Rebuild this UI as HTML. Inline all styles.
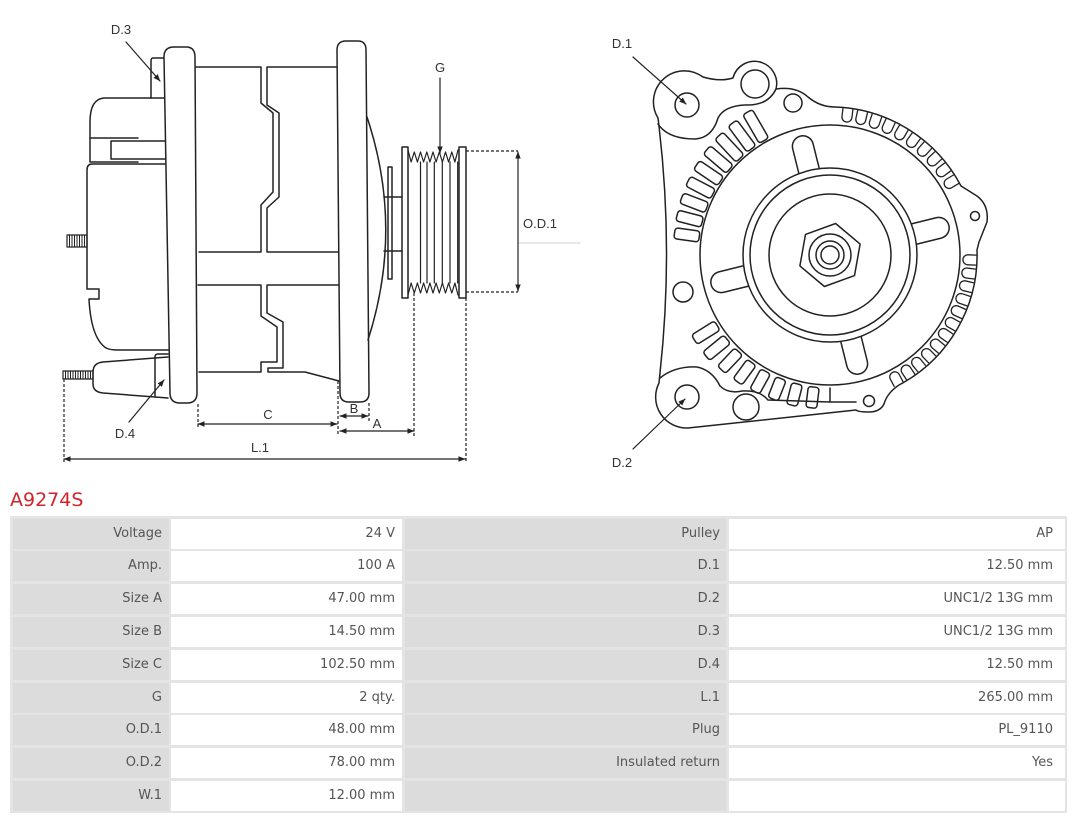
<!DOCTYPE html>
<html><head><meta charset="utf-8">
<style>
html,body{margin:0;padding:0;background:#fff;width:1080px;height:819px;overflow:hidden;position:relative;font-family:"DejaVu Sans","Liberation Sans",sans-serif;}
svg{position:absolute;left:0;top:0;}
.t{position:absolute;font-size:19px;color:#d2232a;left:10px;top:491px;line-height:19px;white-space:nowrap;}
.frame{position:absolute;left:10px;top:516px;width:1057px;height:297px;background:#e4e4e4;}
.c{position:absolute;height:30px;line-height:30px;font-size:13px;color:#555;text-align:right;box-sizing:border-box;white-space:nowrap;}
.l{background:#dcdcdc;padding-right:7px;}
.l2{background:#dcdcdc;padding-right:6px;}
.v{background:#fff;padding-right:7px;}
.v2{background:#fff;padding-right:12px;}
.a{left:13px;width:156px;}
.b{left:171px;width:231px;}
.d{left:405px;width:321px;}
.e{left:729px;width:336px;}
</style></head><body>
<svg width="1080" height="500" viewBox="0 0 1080 500">
<defs>
<marker id="ah" viewBox="0 0 10 10" refX="9.5" refY="5" markerWidth="7" markerHeight="7" orient="auto-start-reverse" markerUnits="userSpaceOnUse"><path d="M0,1 L10,5 L0,9 z" fill="#222"/></marker>
</defs>
<g fill="none" stroke="#222" stroke-width="1.5" stroke-linejoin="round" stroke-linecap="round">
<!-- rear cap -->
<path d="M164,98 H104 Q90,99 90,122 V162 H138"/>
<path d="M90,138 H138"/>
<path d="M165,141 H111 V159 H165"/>
<path d="M165,164 H92 Q87,164 87,170 V289 H99 V299 H89 Q91,338 106,348 Q110,350 118,350 H168"/>
<rect x="67" y="235" width="20" height="12" stroke-width="1.2"/>
<path d="M69.5,235 V247 M72,235 V247 M74.5,235 V247 M77,235 V247 M79.5,235 V247 M82,235 V247 M84.5,235 V247" stroke-width="1"/>
<!-- D.3 tab -->
<path d="M164,58 H153 Q151,58 151,61 V98"/>
<!-- D.4 connector -->
<path d="M168,357 L103,362 Q93,363 93,372 V384 Q93,392 103,393 L168,398"/>
<path d="M168,354 H158 Q155,354 155,357 V396"/>
<rect x="63" y="371" width="30" height="8" stroke-width="1.2"/>
<path d="M65.5,371 V379 M68,371 V379 M70.5,371 V379 M73,371 V379 M75.5,371 V379 M78,371 V379 M80.5,371 V379 M83,371 V379 M85.5,371 V379 M88,371 V379 M90.5,371 V379" stroke-width="1"/>
<!-- stator -->
<path d="M196,67 H261 V103 L273,113 V192 L261,205 V252 H199"/>
<path d="M337,67 H267 V105 L279,113 V197 L267,208 V252 H341"/>
<path d="M198,285 H261 V316 L277,327 V362 H261 V372 H199"/>
<path d="M339,285 H267 V313 L283,322 V368 H268 V372 H305 L339,381"/>
<!-- rear flange -->
<path d="M174,47 H186 Q195,47 195,57 L197,393 Q197,403 187,403 H180 Q170,403 170,393 L164,57 Q164,47 174,47 Z" fill="#fff"/>
<!-- front flange -->
<path d="M346,41 H358 Q366,41 366,50 L369,393 Q369,402 360,402 H349 Q340,402 340,393 L337,50 Q337,41 346,41 Z" fill="#fff"/>
<path d="M367,117 Q404,228 368,340"/>
<!-- washer, shaft -->
<rect x="388" y="167" width="4" height="112"/>
<path d="M384,197 H402 M384,251 H402"/>
<!-- pulley -->
<rect x="402" y="147" width="6" height="151"/>
<rect x="459" y="147" width="7" height="151"/>
<polyline points="408,150 411.1,162 414.3,152 417.4,162 420.5,152 423.6,162 426.8,152 429.9,162 433,152 436.1,162 439.3,152 442.4,162 445.5,152 448.6,162 451.8,152 454.9,162 458,150" stroke-width="1.2"/>
<polyline points="408,295 411.1,283 414.3,293 417.4,283 420.5,293 423.6,283 426.8,293 429.9,283 433,293 436.1,283 439.3,293 442.4,283 445.5,293 448.6,283 451.8,293 454.9,283 458,295" stroke-width="1.2"/>
<path d="M420.5,162 V283 M427,162 V283 M434.3,162 V283 M442.3,162 V283 M450,162 V283 M457.7,162 V283" stroke-width="1.2"/>
<!-- G arrow -->
<line x1="440" y1="78" x2="440" y2="153" stroke-width="1.2" marker-end="url(#ah)"/>
<!-- OD1 -->
<path d="M466,151 H518 M466,292 H518" stroke-dasharray="3,2" stroke-width="1.2" stroke-linecap="butt"/>
<line x1="518" y1="152" x2="518" y2="291" stroke-width="1.2" marker-start="url(#ah)" marker-end="url(#ah)"/>
<line x1="519" y1="243" x2="580" y2="243" stroke="#c8c8c8" stroke-width="1" stroke-dasharray="1,1"/>
<!-- dims -->
<g stroke-dasharray="3,2" stroke-width="1.2" stroke-linecap="butt">
<path d="M198,404 V428 M338,381 V436 M369,403 V421 M414,293 V436 M64,379 V462 M466,298 V462"/>
</g>
<g stroke-width="1.2">
<line x1="198" y1="424" x2="337" y2="424" marker-start="url(#ah)" marker-end="url(#ah)"/>
<line x1="340" y1="416" x2="368" y2="416" marker-start="url(#ah)" marker-end="url(#ah)"/>
<line x1="340" y1="431" x2="414" y2="431" marker-start="url(#ah)" marker-end="url(#ah)"/>
<line x1="64" y1="459" x2="465" y2="459" marker-start="url(#ah)" marker-end="url(#ah)"/>
<line x1="126" y1="42" x2="160" y2="81" marker-end="url(#ah)"/>
<line x1="129" y1="422" x2="164" y2="380" marker-end="url(#ah)"/>
<line x1="633" y1="57" x2="686" y2="104" marker-end="url(#ah)"/>
<line x1="633" y1="449" x2="685" y2="399" marker-end="url(#ah)"/>
</g>

<!-- RIGHT VIEW -->
<path d="M658,118 A31,31 0 0 1 703,77 Q720,82 733,78 A21,21 0 0 1 776,89 Q796,86 808,97 Q820,107 835,107 A148,148 0 0 1 961,186 L977,196 Q989,205 987,222 L979,242 L977,250 A147,147 0 0 1 899,385 Q887,393 884,404 Q880,412 869,412 Q858,412 856,410 L688,428 A31,31 0 0 1 659,383 L660,373 Q674,245 658,118 Z"/>
<path d="M658,124 Q668,139 695,139 Q712,138 718,118 Q724,106 745,105 Q768,106 776,89"/>
<path d="M660,378 Q675,366 697,367 Q712,370 720,386 Q728,394 742,391 Q760,390 768,400 L830,402 L830,388 M830,402 L856,402"/>
<circle cx="687" cy="105" r="12"/>
<circle cx="755" cy="84" r="14"/>
<circle cx="793" cy="103" r="9"/>
<circle cx="683" cy="292" r="10"/>
<circle cx="687" cy="397" r="12"/>
<circle cx="746" cy="407" r="13"/>
<circle cx="975" cy="216" r="4.5"/>
<circle cx="869" cy="401" r="5.5"/>
<circle cx="830" cy="255" r="130"/>
<circle cx="830" cy="255" r="87"/>
<circle cx="830" cy="255" r="80"/>
<circle cx="830" cy="255" r="61"/>
<polygon points="824.4,286.5 799.9,265.9 805.5,234.4 835.6,223.5 860.1,244.1 854.5,275.6"/>
<circle cx="830" cy="255" r="21"/>
<circle cx="830" cy="255" r="14"/>
<circle cx="830" cy="255" r="9"/>
<!-- spokes -->
<g transform="translate(830,255)">
<path transform="rotate(-104)" d="M87,-10.5 H112 A10.5,10.5 0 0 1 112,10.5 H87"/>
<path transform="rotate(-14)" d="M87,-10.5 H112 A10.5,10.5 0 0 1 112,10.5 H87"/>
<path transform="rotate(76)" d="M87,-10.5 H112 A10.5,10.5 0 0 1 112,10.5 H87"/>
<path transform="rotate(166)" d="M87,-10.5 H112 A10.5,10.5 0 0 1 112,10.5 H87"/>
<!-- upper-left slots -->
<rect transform="rotate(-120)" x="132" y="-5.5" width="33" height="11" rx="3"/>
<rect transform="rotate(-126.5)" x="132" y="-5.5" width="32" height="11" rx="3"/>
<rect transform="rotate(-133)" x="132" y="-5.5" width="31" height="11" rx="3"/>
<rect transform="rotate(-139.5)" x="132" y="-5.5" width="30" height="11" rx="3"/>
<rect transform="rotate(-146)" x="132" y="-5.5" width="29" height="11" rx="3"/>
<rect transform="rotate(-152.5)" x="132" y="-5.5" width="28" height="11" rx="3"/>
<rect transform="rotate(-159)" x="132" y="-5.5" width="27" height="11" rx="3"/>
<rect transform="rotate(-165.5)" x="132" y="-5.5" width="26" height="11" rx="3"/>
<rect transform="rotate(-172)" x="132" y="-5.5" width="25" height="11" rx="3"/>
<!-- lower-left slots -->
<rect transform="rotate(148)" x="133" y="-5.5" width="27" height="11" rx="3"/>
<rect transform="rotate(140.7)" x="133" y="-5.5" width="27" height="11" rx="3"/>
<rect transform="rotate(133.4)" x="133" y="-5.5" width="25" height="11" rx="3"/>
<rect transform="rotate(126.1)" x="133" y="-5.5" width="24" height="11" rx="3"/>
<rect transform="rotate(118.9)" x="133" y="-5.5" width="23" height="11" rx="3"/>
<rect transform="rotate(111.6)" x="133" y="-5.5" width="22" height="11" rx="3"/>
<rect transform="rotate(104.3)" x="133" y="-5.5" width="22" height="11" rx="3"/>
<rect transform="rotate(97)" x="133" y="-5.5" width="21" height="11" rx="3"/>
<!-- upper-right U slots -->
<g stroke-width="1.3">
<path transform="rotate(-83)" d="M147,-5 H139 A5,5 0 0 0 139,5 H147"/>
<path transform="rotate(-77.2)" d="M147,-5 H139 A5,5 0 0 0 139,5 H147"/>
<path transform="rotate(-71.4)" d="M147,-5 H139 A5,5 0 0 0 139,5 H147"/>
<path transform="rotate(-65.7)" d="M147,-5 H139 A5,5 0 0 0 139,5 H147"/>
<path transform="rotate(-59.9)" d="M147,-5 H139 A5,5 0 0 0 139,5 H147"/>
<path transform="rotate(-54.1)" d="M147,-5 H139 A5,5 0 0 0 139,5 H147"/>
<path transform="rotate(-48.3)" d="M147,-5 H139 A5,5 0 0 0 139,5 H147"/>
<path transform="rotate(-42.6)" d="M147,-5 H139 A5,5 0 0 0 139,5 H147"/>
<path transform="rotate(-36.8)" d="M147,-5 H139 A5,5 0 0 0 139,5 H147"/>
<path transform="rotate(-31)" d="M147,-5 H139 A5,5 0 0 0 139,5 H147"/>
<!-- lower-right U slots -->
<path transform="rotate(2)" d="M146,-5 H138 A5,5 0 0 0 138,5 H146"/>
<path transform="rotate(7.5)" d="M146,-5 H138 A5,5 0 0 0 138,5 H146"/>
<path transform="rotate(12.9)" d="M146,-5 H138 A5,5 0 0 0 138,5 H146"/>
<path transform="rotate(18.4)" d="M146,-5 H138 A5,5 0 0 0 138,5 H146"/>
<path transform="rotate(23.8)" d="M146,-5 H138 A5,5 0 0 0 138,5 H146"/>
<path transform="rotate(29.3)" d="M146,-5 H138 A5,5 0 0 0 138,5 H146"/>
<path transform="rotate(34.7)" d="M146,-5 H138 A5,5 0 0 0 138,5 H146"/>
<path transform="rotate(40.2)" d="M146,-5 H138 A5,5 0 0 0 138,5 H146"/>
<path transform="rotate(45.6)" d="M146,-5 H138 A5,5 0 0 0 138,5 H146"/>
<path transform="rotate(51.1)" d="M146,-5 H138 A5,5 0 0 0 138,5 H146"/>
<path transform="rotate(56.5)" d="M146,-5 H138 A5,5 0 0 0 138,5 H146"/>
<path transform="rotate(62)" d="M146,-5 H138 A5,5 0 0 0 138,5 H146"/>
</g>
</g>
</g>
<g font-family="Liberation Sans, DejaVu Sans, sans-serif" font-size="13" fill="#333" text-anchor="middle">
<text x="121" y="34">D.3</text>
<text x="125" y="438">D.4</text>
<text x="440" y="72">G</text>
<text x="540" y="228">O.D.1</text>
<text x="268" y="419">C</text>
<text x="354" y="413">B</text>
<text x="377" y="428">A</text>
<text x="260" y="452">L.1</text>
<text x="622" y="48">D.1</text>
<text x="622" y="467">D.2</text>
</g>
</svg>

<div class="t">A9274S</div>
<div class="frame"></div>

<div class="c l a" style="top:518.5px">Voltage</div>
<div class="c v b" style="top:518.5px">24 V</div>
<div class="c l2 d" style="top:518.5px">Pulley</div>
<div class="c v2 e" style="top:518.5px">AP</div>

<div class="c l a" style="top:551.3px">Amp.</div>
<div class="c v b" style="top:551.3px">100 A</div>
<div class="c l2 d" style="top:551.3px">D.1</div>
<div class="c v2 e" style="top:551.3px">12.50 mm</div>

<div class="c l a" style="top:584.1px">Size A</div>
<div class="c v b" style="top:584.1px">47.00 mm</div>
<div class="c l2 d" style="top:584.1px">D.2</div>
<div class="c v2 e" style="top:584.1px">UNC1/2 13G mm</div>

<div class="c l a" style="top:616.9px">Size B</div>
<div class="c v b" style="top:616.9px">14.50 mm</div>
<div class="c l2 d" style="top:616.9px">D.3</div>
<div class="c v2 e" style="top:616.9px">UNC1/2 13G mm</div>

<div class="c l a" style="top:649.7px">Size C</div>
<div class="c v b" style="top:649.7px">102.50 mm</div>
<div class="c l2 d" style="top:649.7px">D.4</div>
<div class="c v2 e" style="top:649.7px">12.50 mm</div>

<div class="c l a" style="top:682.5px">G</div>
<div class="c v b" style="top:682.5px">2 qty.</div>
<div class="c l2 d" style="top:682.5px">L.1</div>
<div class="c v2 e" style="top:682.5px">265.00 mm</div>

<div class="c l a" style="top:715.3px">O.D.1</div>
<div class="c v b" style="top:715.3px">48.00 mm</div>
<div class="c l2 d" style="top:715.3px">Plug</div>
<div class="c v2 e" style="top:715.3px">PL_9110</div>

<div class="c l a" style="top:748.1px">O.D.2</div>
<div class="c v b" style="top:748.1px">78.00 mm</div>
<div class="c l2 d" style="top:748.1px">Insulated return</div>
<div class="c v2 e" style="top:748.1px">Yes</div>

<div class="c l a" style="top:780.9px">W.1</div>
<div class="c v b" style="top:780.9px">12.00 mm</div>
<div class="c l2 d" style="top:780.9px"></div>
<div class="c v2 e" style="top:780.9px"></div>
</body></html>
